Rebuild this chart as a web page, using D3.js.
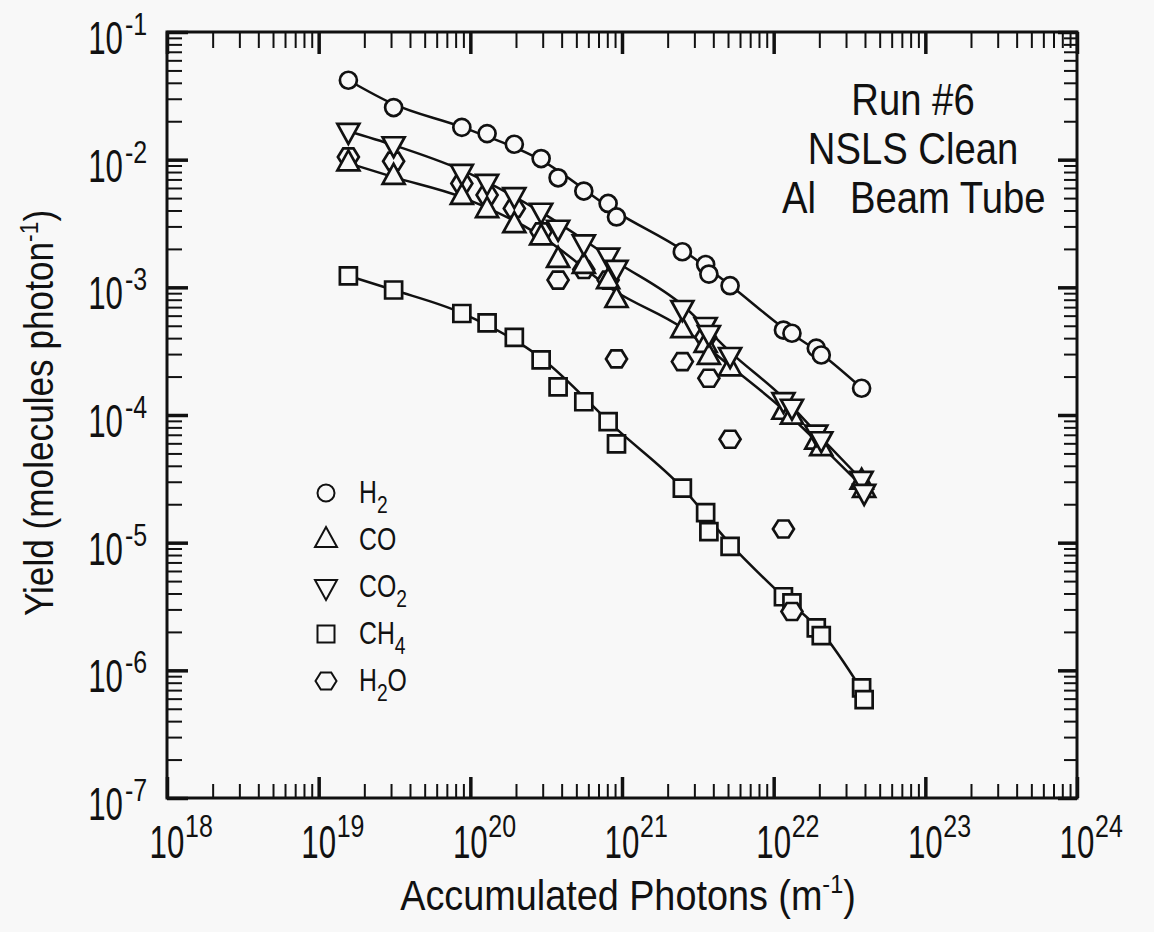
<!DOCTYPE html>
<html>
<head>
<meta charset="utf-8">
<script src="https://cdn.jsdelivr.net/npm/d3@7"></script>
<style>
  body { margin: 0; background: #f8f8f8; }
  svg { display: block; }
  text { font-family: "Liberation Sans", Arial, sans-serif; fill: #111; }
</style>
</head>
<body>
<div id="chart"></div>
<script>
// accumulated photons (m^-1) at each measurement
const photons = [1.57e19, 3.12e19, 8.79e19, 1.29e20, 1.95e20, 2.93e20, 3.79e20, 5.6e20, 8.1e20, 9.2e20,
  2.5e21, 3.56e21, 3.74e21, 5.16e21, 1.16e22, 1.32e22, 1.91e22, 2.06e22, 3.8e22, 3.95e22];

// yields (molecules / photon)
const h2 = [4.19e-2, 2.56e-2, 1.79e-2, 1.60e-2, 1.32e-2, 1.02e-2, 7.21e-3, 5.68e-3, 4.54e-3, 3.56e-3,
  1.90e-3, 1.51e-3, 1.27e-3, 1.03e-3, 4.63e-4, 4.37e-4, 3.34e-4, 2.95e-4, 1.62e-4, null];
const co = [9.34e-3, 7.33e-3, 5.12e-3, 4.03e-3, 3.07e-3, 2.46e-3, 1.64e-3, 1.47e-3, 1.12e-3, 7.96e-4,
  4.63e-4, 3.54e-4, 2.85e-4, 2.32e-4, 1.06e-4, 9.72e-5, 6.19e-5, 5.50e-5, 3.00e-5, 2.59e-5];
const co2 = [1.68e-2, 1.32e-2, 8.02e-3, 6.70e-3, 5.28e-3, 3.98e-3, 2.93e-3, 2.25e-3, 1.77e-3, 1.42e-3,
  6.89e-4, 5.07e-4, 4.39e-4, 2.95e-4, 1.31e-4, 1.16e-4, 7.28e-5, 6.46e-5, 3.16e-5, 2.50e-5];
const ch4 = [1.23e-3, 9.53e-4, 6.24e-4, 5.26e-4, 4.06e-4, 2.70e-4, 1.66e-4, 1.27e-4, 8.88e-5, 5.94e-5,
  2.67e-5, 1.72e-5, 1.22e-5, 9.34e-6, 3.77e-6, 3.37e-6, 2.15e-6, 1.87e-6, 7.28e-7, 5.90e-7];
const h2o = [1.05e-2, 9.73e-3, 6.51e-3, 5.28e-3, 4.15e-3, 2.72e-3, 1.14e-3, 1.38e-3, 1.14e-3, 2.75e-4,
  2.62e-4, 4.06e-4, 1.94e-4, 6.46e-5, 1.28e-5, 2.89e-6, null, null, null, null];

// fitted curves (knots)
const fitPhotons = [1.57e19, 3.12e19, 8.79e19, 2.93e20, 9.2e20, 2.5e21, 5.16e21, 1.16e22, 2.06e22, 3.8e22];
const h2Fit = [4.19e-2, 2.72e-2, 1.80e-2, 9.91e-3, 3.88e-3, 1.96e-3, 1.04e-3, 4.80e-4, 3.01e-4, 1.63e-4];
const co2Fit = [1.67e-2, 1.30e-2, 8.28e-3, 3.88e-3, 1.58e-3, 7.27e-4, 3.12e-4, 1.36e-4, 6.62e-5, 3.11e-5];
const coFit = [9.39e-3, 7.30e-3, 5.09e-3, 2.52e-3, 9.19e-4, 4.80e-4, 2.42e-4, 1.10e-4, 5.73e-5, 2.79e-5];
const ch4Fit = [1.23e-3, 9.53e-4, 6.29e-4, 2.80e-4, 7.78e-5, 2.69e-5, 9.80e-6, 3.77e-6, 2.01e-6, 7.06e-7];

const xExps = [18, 19, 20, 21, 22, 23, 24];
const yExps = [-7, -6, -5, -4, -3, -2, -1];
const infoLines = ["Run #6", "NSLS Clean"];

const W = 1154, H = 932;
const plot = { left: 167, right: 1077, top: 32, bottom: 798 };
const bg = "#f8f8f8", ink = "#111";

const x = d3.scaleLog().domain([1e18, 1e24]).range([plot.left, plot.right]);
const y = d3.scaleLog().domain([1e-7, 1e-1]).range([plot.bottom, plot.top]);

const svg = d3.select("#chart").append("svg").attr("width", W).attr("height", H);
svg.append("rect").attr("width", W).attr("height", H).attr("fill", bg);

// condensed-looking text: squeeze horizontally
function label(px, py, size, sx, anchor, rot) {
  const tr = `translate(${px},${py})` + (rot ? ` rotate(${rot})` : "") + ` scale(${sx},1)`;
  return svg.append("text").attr("transform", tr)
    .attr("text-anchor", anchor).style("font-size", size + "px");
}

// ticks on all four sides
const xMajor = xExps.map(e => Math.pow(10, e));
const yMajor = yExps.map(e => Math.pow(10, e));
const xMinor = d3.range(18, 24).flatMap(e => d3.range(2, 10).map(m => m * Math.pow(10, e)));
const yMinor = d3.range(-7, -1).flatMap(e => d3.range(2, 10).map(m => m * Math.pow(10, e)));

function ticks(axis, scale, values, size, width, tr) {
  const g = svg.append("g").attr("transform", tr)
    .call(axis(scale).tickValues(values).tickSize(-size).tickFormat(""));
  g.select(".domain").remove();
  g.selectAll("line").attr("stroke", ink).attr("stroke-width", width);
}
ticks(d3.axisBottom, x, xMinor, 14, 2, `translate(0,${plot.bottom})`);
ticks(d3.axisBottom, x, xMajor, 21, 3.5, `translate(0,${plot.bottom})`);
ticks(d3.axisTop, x, xMinor, 16, 2, `translate(0,${plot.top})`);
ticks(d3.axisTop, x, xMajor, 22, 3.5, `translate(0,${plot.top})`);
ticks(d3.axisLeft, y, yMinor, 15, 2, `translate(${plot.left},0)`);
ticks(d3.axisLeft, y, yMajor, 21, 3.5, `translate(${plot.left},0)`);
ticks(d3.axisRight, y, yMinor, 13, 2, `translate(${plot.right},0)`);
ticks(d3.axisRight, y, yMajor, 19, 3.5, `translate(${plot.right},0)`);

svg.append("rect")
  .attr("x", plot.left).attr("y", plot.top)
  .attr("width", plot.right - plot.left).attr("height", plot.bottom - plot.top)
  .attr("fill", "none").attr("stroke", ink).attr("stroke-width", 3);

// tick labels: 10 with superscript exponent
xExps.forEach(e => {
  const px = x(Math.pow(10, e));
  label(px, 858, 46, 0.68, "middle").text("10");
  label(px + 18, 837, 32, 0.78, "start").text(e);
});
yExps.forEach(e => {
  const py = y(Math.pow(10, e));
  label(123, py + 22, 46, 0.68, "end").text("10");
  label(125, py + 3, 32, 0.78, "start").text("-" + Math.abs(e));
});

// axis titles
const xt = label(628, 910, 42, 0.9, "middle");
xt.append("tspan").text("Accumulated Photons (m");
xt.append("tspan").attr("dy", -17).style("font-size", "26px").text("-1");
xt.append("tspan").attr("dy", 17).text(")");

const yt = label(53, 413, 40, 0.88, "middle", -90);
yt.append("tspan").text("Yield (molecules photon");
yt.append("tspan").attr("dy", -15).style("font-size", "26px").text("-1");
yt.append("tspan").attr("dy", 15).text(")");

// fitted lines
const line = d3.line()
  .x(d => x(d[0])).y(d => y(d[1]))
  .curve(d3.curveMonotoneX);
[h2Fit, co2Fit, coFit, ch4Fit].forEach(f => {
  svg.append("path")
    .attr("d", line(fitPhotons.map((p, i) => [p, f[i]])))
    .attr("fill", "none").attr("stroke", ink).attr("stroke-width", 2.5);
});

// marker shapes
const shapes = {
  circle: "M8.5,0A8.5,8.5 0 1,1 -8.5,0A8.5,8.5 0 1,1 8.5,0Z",
  up: "M0,-13L11,7L-11,7Z",
  down: "M0,13L11,-7L-11,-7Z",
  square: "M-8.5,-8.5H8.5V8.5H-8.5Z",
  hex: "M-10.5,0L-5.2,-8.5L5.2,-8.5L10.5,0L5.2,8.5L-5.2,8.5Z"
};

const series = [
  { values: ch4, shape: "square" },
  { values: h2o, shape: "hex" },
  { values: co, shape: "up" },
  { values: co2, shape: "down" },
  { values: h2, shape: "circle" }
];

series.forEach(s => {
  const pts = photons.map((p, i) => [p, s.values[i]]).filter(d => d[1] != null);
  svg.append("g").selectAll("path").data(pts).join("path")
    .attr("transform", d => `translate(${x(d[0])},${y(d[1])})`)
    .attr("d", shapes[s.shape])
    .attr("fill", bg).attr("stroke", ink).attr("stroke-width", 2.7);
});

// legend
const legend = [
  { shape: "circle", base: "H", sub: "2", tail: "" },
  { shape: "up", base: "CO", sub: "", tail: "" },
  { shape: "down", base: "CO", sub: "2", tail: "" },
  { shape: "square", base: "CH", sub: "4", tail: "" },
  { shape: "hex", base: "H", sub: "2", tail: "O" }
];
legend.forEach((d, i) => {
  const by = 503 + i * 47;
  svg.append("path").attr("transform", `translate(326,${by - 10})`)
    .attr("d", shapes[d.shape]).attr("fill", bg).attr("stroke", ink).attr("stroke-width", 2);
  const t = label(359, by, 31, 0.8, "start");
  t.append("tspan").text(d.base);
  if (d.sub) t.append("tspan").attr("dy", 10).style("font-size", "24px").text(d.sub);
  if (d.tail) t.append("tspan").attr("dy", -10).text(d.tail);
});

// run info block
infoLines.forEach((s, i) => {
  label(913, 115 + i * 49, 45, 0.85, "middle").text(s);
});
label(782, 213, 45, 0.85, "start").text("Al");
label(850, 213, 45, 0.85, "start").text("Beam Tube");
</script>
</body>
</html>
